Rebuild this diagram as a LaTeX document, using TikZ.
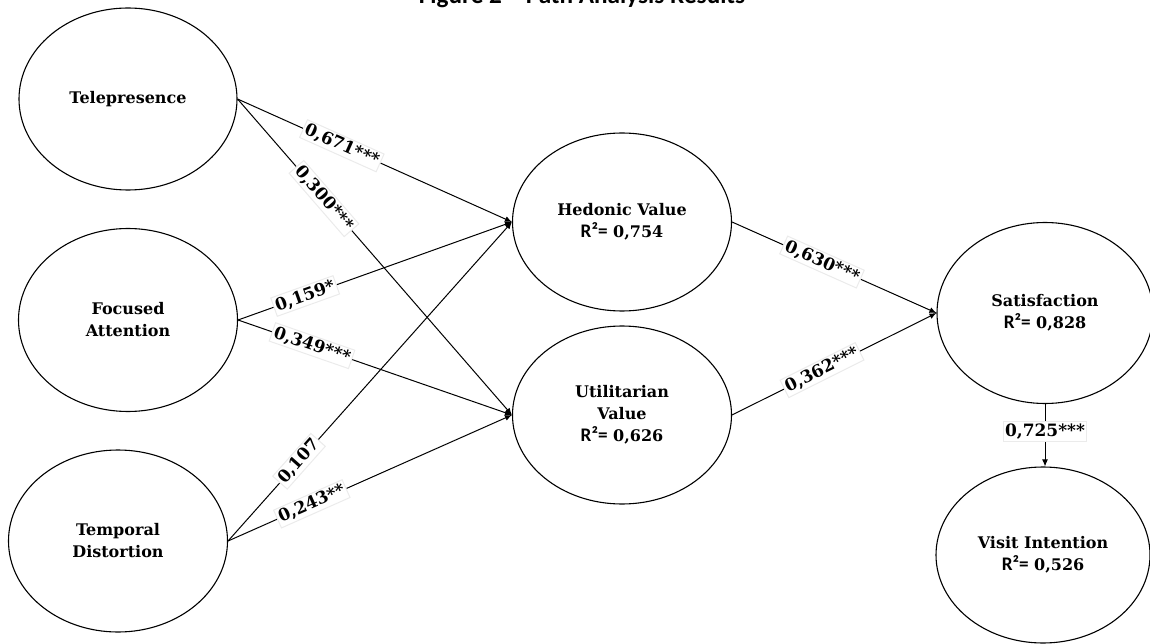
\documentclass[tikz,border=0pt]{standalone}
\usepackage{fontspec}
\setmainfont{DejaVu Serif}
\setsansfont{Carlito}[Scale=1.2]
\usetikzlibrary{shapes.geometric,arrows.meta}
\tikzset{
    latent/.style={draw, ellipse, line width=1.1pt, inner sep=0pt, align=center,
        font=\bfseries\fontsize{16}{22}\selectfont},
    coef/.style={fill=white, draw=black!8, inner sep=2pt,
        font=\bfseries\fontsize{17}{19}\selectfont},
    effect/.style={line width=1pt, -{Latex[length=7pt,width=6pt]}}
}
\newcommand{\rsq}[1]{{\sffamily R²=} #1}

\begin{document}
\begin{tikzpicture}[x=1pt,y=-1pt]
    \clip (0,0) rectangle (1150,644);
    \useasboundingbox (0,0) rectangle (1150,644);
    \node[anchor=base, font=\sffamily\bfseries\fontsize{21}{24}\selectfont] (title) at (582,4) {Figure 2 – Path Analysis Results};
    \node[latent, minimum width=218pt, minimum height=182pt] (tele) at (128,99) {Telepresence};
    \node[latent, minimum width=219pt, minimum height=183pt] (focus) at (128,320) {Focused\\Attention};
    \node[latent, minimum width=219pt, minimum height=182pt] (temp) at (118,541) {Temporal\\Distortion};
    \node[latent, minimum width=219pt, minimum height=178pt] (hed) at (622,222) {Hedonic Value\\\rsq{0,754}};
    \node[latent, minimum width=219pt, minimum height=178pt] (util) at (622,415) {Utilitarian\\Value\\\rsq{0,626}};
    \node[latent, minimum width=216pt, minimum height=181pt] (sat) at (1045,313) {Satisfaction\\\rsq{0,828}};
    \node[latent, minimum width=214pt, minimum height=176pt] (visit) at (1043,555) {Visit Intention\\\rsq{0,526}};
    \foreach \a/\b/\p/\v in {tele/hed/0.38/{0,671***}, tele/util/0.315/{0,300***},
        focus/hed/0.245/{0,159*}, focus/util/0.27/{0,349***},
        temp/hed/0.25/{0,107}, temp/util/0.295/{0,243**},
        hed/sat/0.44/{0,630***}, util/sat/0.44/{0,362***}}{
        \draw[effect] (\a.east) -- node[coef, sloped, pos=\p] {\v} (\b.west);
    }
    \draw[effect] (sat.south) -- node[coef, pos=0.44] {0,725***} (sat.south |- visit.north);
\end{tikzpicture}
\end{document}
